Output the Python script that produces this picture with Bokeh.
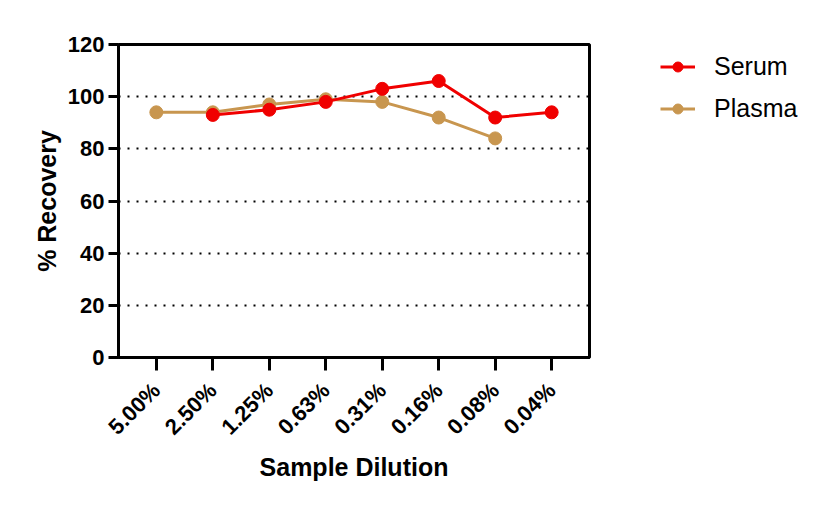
import math

import numpy as np
from bokeh.embed import file_html
from bokeh.models import FactorRange, Legend, LegendItem, Range1d, FixedTicker
from bokeh.plotting import figure
from bokeh.resources import INLINE

dilutions = ['5.00%', '2.50%', '1.25%', '0.63%', '0.31%', '0.16%', '0.08%', '0.04%']
serum = [np.nan, 93, 95, 98, 103, 106, 92, 94]
plasma = [94, 94, 97, 99, 98, 92, 84, np.nan]
y_ticks = [0, 20, 40, 60, 80, 100, 120]

red = '#F00000'
tan = '#C8964F'
font = 'Liberation Sans'

p = figure(
    x_range=FactorRange(factors=dilutions, range_padding=0.0425),
    y_range=Range1d(0, 120),
    frame_width=471,
    frame_height=313,
    min_border_left=118,
    min_border_top=44,
    min_border_right=210,
    min_border_bottom=140,
    toolbar_location=None,
    output_backend='svg',
)

pl_line = p.line(dilutions, plasma, line_width=3, color=tan)
pl_dot = p.scatter(dilutions, plasma, size=13, color=tan)
se_line = p.line(dilutions, serum, line_width=3, color=red)
se_dot = p.scatter(dilutions, serum, size=13, color=red)

p.outline_line_color = 'black'
p.outline_line_width = 3
p.outline_line_alpha = 1

p.xgrid.grid_line_color = None
p.ygrid.grid_line_color = 'black'
p.ygrid.grid_line_dash = '2 7'
p.ygrid.grid_line_width = 2
p.yaxis.ticker = FixedTicker(ticks=y_ticks)

p.axis.axis_line_width = 3
p.axis.axis_line_color = 'black'
p.axis.major_tick_line_width = 3
p.axis.major_tick_line_color = 'black'
p.axis.major_tick_in = 0
p.axis.minor_tick_line_color = None
p.axis.major_label_text_font = font
p.axis.major_label_text_font_style = 'bold'
p.axis.major_label_text_font_size = '22px'
p.axis.major_label_text_color = 'black'
p.axis.axis_label_text_font = font
p.axis.axis_label_text_font_style = 'bold'
p.axis.axis_label_text_font_size = '25px'
p.axis.axis_label_text_color = 'black'

p.yaxis.major_tick_out = 10
p.yaxis.major_label_standoff = 4
p.yaxis.axis_label = '% Recovery'
p.yaxis.axis_label_standoff = 4

p.xaxis.major_tick_out = 13
p.xaxis.major_label_orientation = math.pi / 4
p.xaxis.major_label_standoff = 16
p.xaxis.axis_label = 'Sample Dilution'
p.xaxis.axis_label_standoff = 2

legend = Legend(
    items=[
        LegendItem(label='Serum', renderers=[se_line, se_dot]),
        LegendItem(label='Plasma', renderers=[pl_line, pl_dot]),
    ],
    location=(71, 234),
    padding=0,
    margin=0,
    spacing=13,
    glyph_width=35,
    glyph_height=25,
    label_height=20,
    label_standoff=19,
    label_text_font=font,
    label_text_font_size='25px',
    label_text_color='black',
    background_fill_alpha=0,
    border_line_color=None,
)
p.add_layout(legend, 'right')

open('out.html', 'w').write(file_html(p, INLINE))
